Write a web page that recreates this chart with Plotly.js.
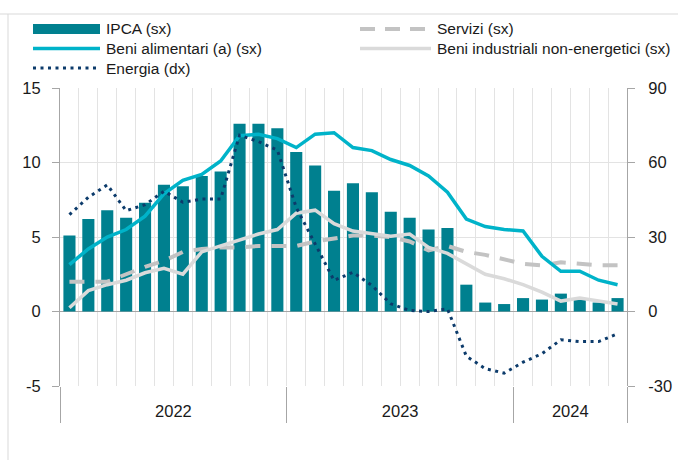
<!DOCTYPE html>
<html><head><meta charset="utf-8">
<script src="https://cdn.plot.ly/plotly-3.0.1.min.js"></script>
<style>html,body{margin:0;padding:0;background:#fff}#chart{width:678px;height:460px}</style>
</head><body><div id="chart"></div>
<script>
const months = ['2022-01','2022-02','2022-03','2022-04','2022-05','2022-06','2022-07','2022-08','2022-09','2022-10','2022-11','2022-12',
                '2023-01','2023-02','2023-03','2023-04','2023-05','2023-06','2023-07','2023-08','2023-09','2023-10','2023-11','2023-12',
                '2024-01','2024-02','2024-03','2024-04','2024-05','2024-06'];
const years = ['2022','2023','2024'];
const ipca = [5.1,6.2,6.8,6.3,7.3,8.5,8.4,9.1,9.4,12.6,12.6,12.3, 10.7,9.8,8.1,8.6,8.0,6.7,6.3,5.5,5.6,1.8,0.6,0.5, 0.9,0.8,1.2,0.8,0.6,0.9];
const alimentari = [3.15,4.2,5.0,5.5,6.4,7.9,8.8,9.2,10.1,11.8,11.9,11.6, 11.0,11.9,12.0,11.0,10.8,10.2,9.8,9.1,8.0,6.2,5.7,5.5, 5.4,3.7,2.7,2.7,2.1,1.8];
const energia = [39,46,51,40.6,43,48.4,44,45.3,45.3,71,68.4,65, 41.9,27.2,12.5,15.8,10.5,3.1,0.4,0,1.1,-18,-23,-24.8, -20.4,-17,-11.4,-12.1,-12.1,-9];
const servizi = [2.0,2.0,2.0,2.5,3.0,3.4,4.0,4.2,4.3,4.3,4.4,4.4, 4.4,4.7,4.9,5.1,5.1,5.0,4.7,4.1,4.4,4.0,3.8,3.5, 3.2,3.1,3.3,3.2,3.1,3.1];
const industriali = [0.25,1.4,1.8,2.1,2.6,2.9,2.5,4.0,4.4,4.8,5.2,5.5, 6.6,6.8,5.9,5.4,5.2,5.05,5.2,4.3,3.9,3.2,2.5,2.2, 1.8,1.3,0.7,0.9,0.7,0.5];
const names = ['IPCA (sx)','Servizi (sx)','Beni alimentari (a) (sx)','Beni industriali non-energetici (sx)','Energia (dx)'];
const leftTicks = [-5,0,5,10,15];
const leftTickText = ['-5','0','5','10','15'];
const rightTicks = [-30,0,30,60,90];
const rightTickText = ['-30','0','30','60','90'];

const x = months.map((m,i)=>i);
const yearCenters = years.map(y=>{const idx=x.filter(i=>months[i].startsWith(y));return (idx[0]+idx[idx.length-1])/2;});
const yearBounds = years.map(y=>x.find(i=>months[i].startsWith(y))-0.5).concat([x.length-0.5]);

const FONT = '"Liberation Sans",Arial,sans-serif';
const TXT = '#1a1a1a';
const C_IPCA='#00808f', C_ALI='#00b3c9', C_ENE='#0c3b6b', C_SER='#c3c3c3', C_IND='#dadada';

const traces = [
  {type:'bar', x:x, y:ipca, name:names[0], width:0.64, marker:{color:C_IPCA}, hoverinfo:'skip'},
  {type:'scatter', mode:'lines', x:x, y:servizi, name:names[1], line:{color:C_SER,width:4,dash:'15px,11px'}},
  {type:'scatter', mode:'lines', x:x, y:industriali, name:names[3], line:{color:C_IND,width:3.5}},
  {type:'scatter', mode:'lines', x:x, y:alimentari, name:names[2], line:{color:C_ALI,width:3.5}},
  {type:'scatter', mode:'lines', x:x, y:energia, name:names[4], yaxis:'y2', line:{color:C_ENE,width:3,dash:'3px,4.5px'}},
  {type:'scatter', mode:'lines', x:yearCenters, y:yearCenters.map(()=>null), xaxis:'x2', showlegend:false, hoverinfo:'skip'}
];

// legend layout helpers (pixel -> paper)
const L=60, T=88, W=567, H=298;
const px=v=>(v-L)/W, py=v=>(T+H-v)/H;
const legendItems = [
  {name:names[0], col:0, row:0, line:{color:C_IPCA,width:10}},
  {name:names[2], col:0, row:1, line:{color:C_ALI,width:3.5}},
  {name:names[4], col:0, row:2, line:{color:C_ENE,width:3,dash:'3px,4.5px'}},
  {name:names[1], col:1, row:0, line:{color:C_SER,width:4,dash:'15px,10px'}},
  {name:names[3], col:1, row:1, line:{color:C_IND,width:3.5}}
];
const colX=[[33,100],[360,431]], rowY=[29,48.5,68];
const shapes = legendItems.map(it=>({type:'line', xref:'paper', yref:'paper',
   x0:px(colX[it.col][0]), x1:px(colX[it.col][1]), y0:py(rowY[it.row]), y1:py(rowY[it.row]), line:it.line}));
shapes.push({type:'line',xref:'paper',yref:'paper',x0:px(0),x1:px(678),y0:py(14),y1:py(14),line:{color:'#d9d9d9',width:1}});
shapes.push({type:'line',xref:'paper',yref:'paper',x0:px(8),x1:px(8),y0:py(14),y1:py(460),line:{color:'#d9d9d9',width:1}});
const annotations = legendItems.map(it=>({xref:'paper',yref:'paper',x:px(colX[it.col][1]+4),y:py(rowY[it.row]),
   xanchor:'left',yanchor:'middle',showarrow:false,text:it.name,font:{family:FONT,size:15.5,color:TXT}}));

const tickfont={family:FONT,size:16.5,color:TXT};
const layout = {
  width:678, height:460, margin:{l:L,r:678-L-W,t:T,b:460-T-H},
  paper_bgcolor:'#fff', plot_bgcolor:'#fff', showlegend:false,
  font:{family:FONT,color:TXT},
  xaxis:{range:[-0.5,x.length-0.5], tickmode:'array', tickvals:yearBounds, ticktext:yearBounds.map(()=>''),
    ticks:'outside', ticklen:36, tickcolor:'#a6a6a6', tickwidth:1, showgrid:false, zeroline:false, showline:false,
    minor:{tickmode:'linear', tick0:0.5, dtick:1, showgrid:true, gridcolor:'#e3e3e3', gridwidth:1, ticks:''}},
  xaxis2:{overlaying:'x', anchor:'y', side:'bottom', range:[-0.5,x.length-0.5], tickmode:'array', tickvals:yearCenters, ticktext:years,
    ticks:'outside', ticklen:10, tickcolor:'rgba(0,0,0,0)', showgrid:false, zeroline:false, showline:false, tickfont:tickfont},
  yaxis:{range:[-5,15], tickmode:'array', tickvals:leftTicks, ticktext:leftTickText, ticks:'outside', ticklen:7, tickcolor:'#a6a6a6',
    showline:true, linecolor:'#a6a6a6', gridcolor:'#e3e3e3', zeroline:true, zerolinecolor:'#a6a6a6', zerolinewidth:1,
    tickfont:tickfont, ticklabelstandoff:8},
  yaxis2:{overlaying:'y', side:'right', range:[-30,90], tickmode:'array', tickvals:rightTicks, ticktext:rightTickText, ticks:'outside', ticklen:7,
    tickcolor:'#a6a6a6', showline:true, linecolor:'#a6a6a6', showgrid:false, zeroline:false, tickfont:tickfont, ticklabelstandoff:10},
  shapes:shapes, annotations:annotations
};
Plotly.newPlot('chart', traces, layout, {displayModeBar:false, staticPlot:true});
</script></body></html>
